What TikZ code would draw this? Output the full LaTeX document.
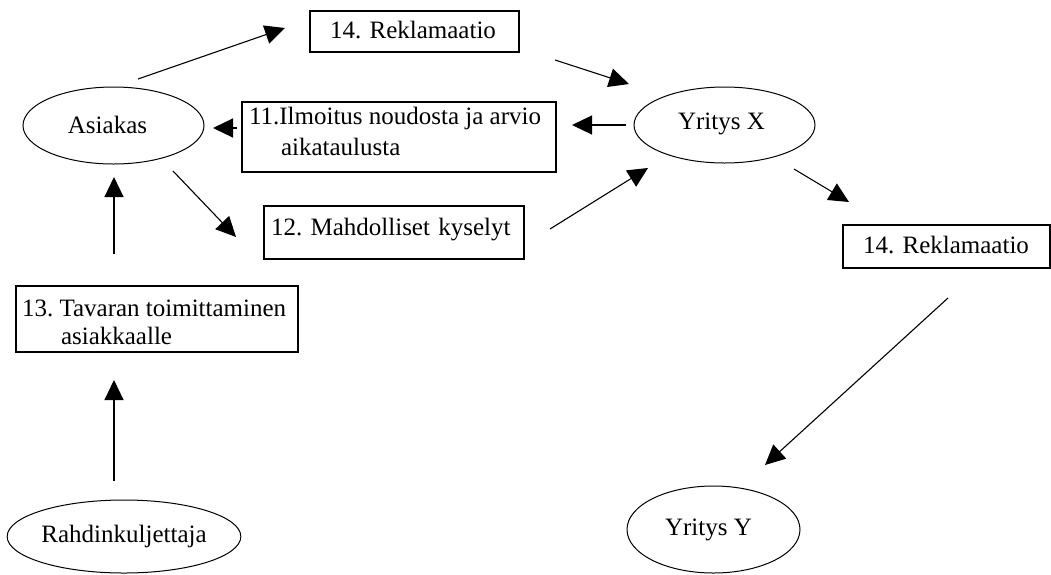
\documentclass[tikz,border=0pt]{standalone}
\usepackage{fontspec}
\setmainfont{Liberation Serif}
\usetikzlibrary{shapes.geometric,arrows.meta}
\frenchspacing
% shift a label vertically without changing the box TikZ centres
\newcommand{\nudge}[2]{\raisebox{#1}[\height][\depth]{#2}}
\begin{document}
\begin{tikzpicture}[x=1pt,y=-1pt,
  font=\fontsize{25}{30}\selectfont,
  party/.style={draw,ellipse,line width=1pt,inner sep=0pt},
  msgbox/.style={draw,rectangle,line width=1.4pt,inner ysep=0pt,inner xsep=7pt,align=left},
  arr/.style={line width=1.1pt,-{Triangle[length=20pt,width=19pt]}}]
\useasboundingbox (0,0) rectangle (1051,574);

% parties
\node[party,minimum width=181pt,minimum height=77pt] (asiakas) at (113.5,125.5) {\hspace*{-12pt}\nudge{1pt}{Asiakas}};
\node[party,minimum width=181pt,minimum height=76pt] (yx) at (724.5,125) {\hspace*{-6pt}\nudge{1pt}{Yritys X}};
\node[party,minimum width=173pt,minimum height=87pt] (yy) at (713.5,529.5) {\hspace*{-10pt}Yritys Y};
\node[party,minimum width=224pt,minimum height=73pt] (rahdin) at (124,536.5) {Rahdinkuljettaja};

% messages
\node[msgbox,inner xsep=20pt,text width=169pt,minimum height=41pt] (rek1) at (414.5,31.5) {\nudge{1.5pt}{14. Reklamaatio}};
\node[msgbox,minimum height=70pt] (ilm) at (399,137)
  {\nudge{3pt}{\fontsize{25}{31}\selectfont
   \begin{tabular}{@{}p{300pt}@{}}11.Ilmoitus noudosta ja arvio\\\hspace*{32pt}aikataulusta\end{tabular}}};
\node[msgbox,text width=246pt,minimum height=53pt] (kys) at (394,232.5) {\nudge{2.5pt}{12. Mahdolliset kyselyt}};
\node[msgbox,inner xsep=6pt,minimum height=66pt] (tav) at (157,319)
  {\nudge{-6pt}{\fontsize{25}{28}\selectfont
   \begin{tabular}{@{}p{270pt}@{}}13. Tavaran toimittaminen\\\hspace*{39pt}asiakkaalle\end{tabular}}};
\node[msgbox,inner xsep=20pt,text width=167pt,minimum height=43pt] (rek2) at (946.5,246.5) {\nudge{2pt}{14. Reklamaatio}};

% connector ends
\coordinate (as-out) at (138,79);
\coordinate (rek1-in) at (285,28);
\coordinate (rek1-out) at (555,60);
\coordinate (yx-in1) at (629,84);
\coordinate (yx-out1) at (626,125);
\coordinate (ilm-in) at (572,125);
\coordinate (ilm-out) at (237,128);
\coordinate (as-in1) at (213,128);
\coordinate (as-out2) at (173,171);
\coordinate (kys-in) at (236,237);
\coordinate (kys-out) at (550,229);
\coordinate (yx-in2) at (648,168);
\coordinate (yx-out2) at (794,169);
\coordinate (rek2-in) at (849,202);
\coordinate (rek2-out) at (948,298);
\coordinate (yy-in) at (765,465);
\coordinate (tav-out) at (114,254);
\coordinate (as-in2) at (114,177);
\coordinate (rahdin-out) at (114,481);
\coordinate (tav-in) at (114,380);

% flows
\draw[arr] (as-out) -- (rek1-in);
\draw[arr] (rek1-out) -- (yx-in1);
\draw[arr] (yx-out1) -- (ilm-in);
\draw[arr] (ilm-out) -- (as-in1);
\draw[arr] (as-out2) -- (kys-in);
\draw[arr] (kys-out) -- (yx-in2);
\draw[arr] (yx-out2) -- (rek2-in);
\draw[arr] (rek2-out) -- (yy-in);
\draw[arr] (tav-out) -- (as-in2);
\draw[arr] (rahdin-out) -- (tav-in);
\end{tikzpicture}
\end{document}
